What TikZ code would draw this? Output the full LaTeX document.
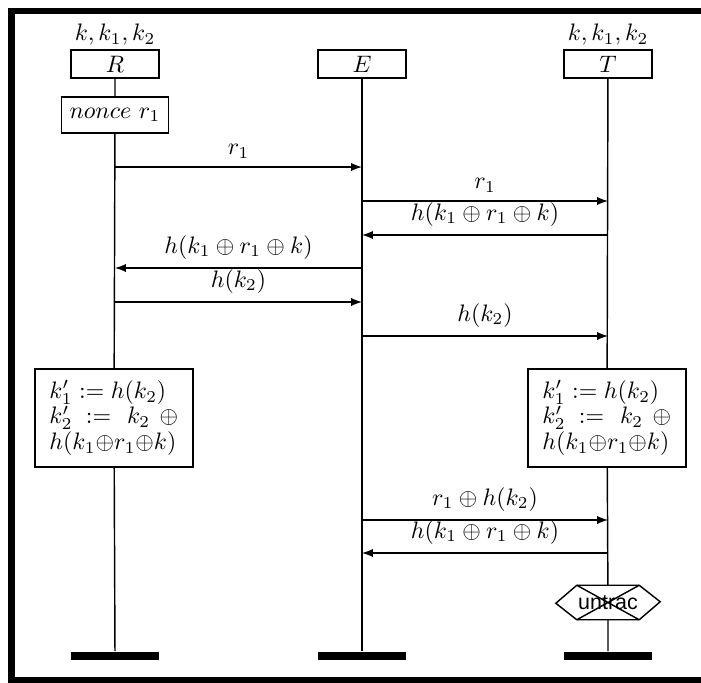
\documentclass[tikz,border=0pt]{standalone}
\usepackage{fontspec}
\newfontfamily\untracfont{Liberation Sans}
\begin{document}
\begin{tikzpicture}[x=0.42pt, y=-0.42pt, line width=0.6pt, font=\fontsize{9.7}{11.6}\selectfont,
  head/.style={draw, inner sep=0pt, minimum width=37pt, minimum height=11.8pt},
  action/.style={draw, align=left, text width=54.2pt, inner xsep=6pt, minimum height=41.2pt},
  msg/.style={-latex},
  endbar/.style={fill=black, inner sep=0pt, minimum width=37pt, minimum height=3.4pt}]
  \useasboundingbox (0,0) rectangle (701,682);
  \clip (0,0) rectangle (701,682);
  \draw[line width=2.9pt] (720,11) -- (11.5,11) -- (11.5,680.5) -- (720,680.5);
  \node (keysR) at (115,35) {$k, k_1, k_2$};
  \node (keysT) at (608,35) {$k, k_1, k_2$};
  \node[head] (R) at (115,64) {$R$};
  \node[head] (E) at (362,64) {$E$};
  \node[head] (T) at (608,64) {$T$};
  \node[draw, minimum height=15.1pt] (nonce) at (115,115) {$nonce\ r_1$};
  \node[action] (compR) at (114,418) {$k'_1 := h(k_2)$\\[-0.9pt]
    \makebox[54pt]{$k'_2$\hspace{0pt plus 1fill}$:=$\hspace{0pt plus 1.2fill}$k_2$\hspace{0pt plus 0.7fill}$\oplus$}\\[-0.9pt]
    $h(k_1{\oplus}r_1{\oplus}k)$};
  \node[action] (compT) at (607,418) {$k'_1 := h(k_2)$\\[-0.9pt]
    \makebox[54pt]{$k'_2$\hspace{0pt plus 1fill}$:=$\hspace{0pt plus 1.2fill}$k_2$\hspace{0pt plus 0.7fill}$\oplus$}\\[-0.9pt]
    $h(k_1{\oplus}r_1{\oplus}k)$};
  \node[inner sep=0pt, minimum width=25.6pt, minimum height=13.9pt, font=\untracfont\small] (untrac) at (608,602.5) {untrac};
  \draw (untrac.north west) -- (untrac.north east) -- ++(21,16.5) -- (untrac.south east)
    -- (untrac.south west) -- ++(-21,-16.5) -- cycle;
  \draw (untrac.north west) -- (untrac.south east) (untrac.north east) -- (untrac.south west);
  \node[endbar] (endR) at (115,656) {};
  \node[endbar] (endE) at (362,656) {};
  \node[endbar] (endT) at (608,656) {};
  \draw (R) -- (nonce) -- (compR) -- (endR);
  \draw (E) -- (endE);
  \draw (T) -- (compT) -- (untrac) -- (endT);
  \foreach \y/\from/\to/\lab in {167/R/E/{$r_1$}, 201/E/T/{$r_1$},
      235/T/E/{$h(k_1\oplus r_1\oplus k)$}, 268/E/R/{$h(k_1\oplus r_1\oplus k)$},
      302/R/E/{$h(k_2)$}, 336/E/T/{$h(k_2)$},
      520/E/T/{$r_1\oplus h(k_2)$}, 553/T/E/{$h(k_1\oplus r_1\oplus k)$}}
    \draw[msg] (\from |- 0,\y) -- node[above] {\lab} (\to |- 0,\y);
\end{tikzpicture}
\end{document}
